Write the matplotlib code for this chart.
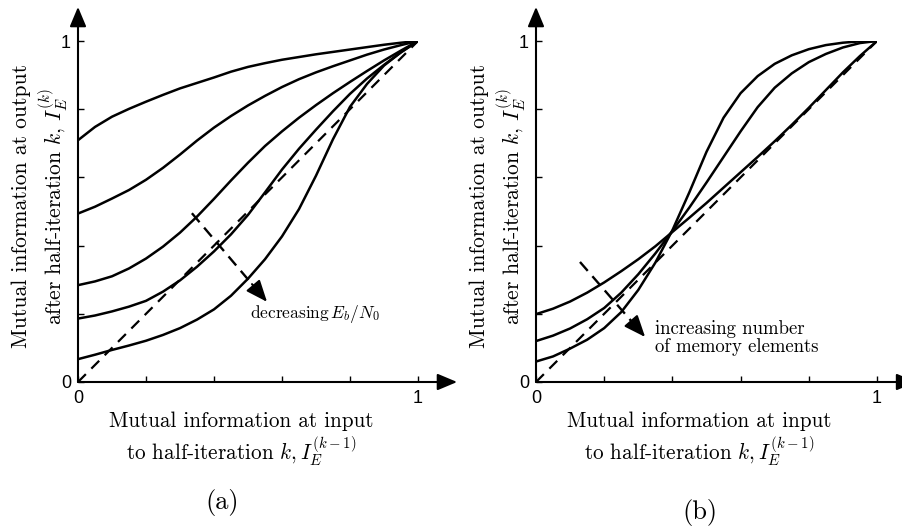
import matplotlib
matplotlib.use("Agg")
import matplotlib.pyplot as plt

plt.rcParams['mathtext.fontset'] = 'cm'
plt.rcParams['font.family'] = ['cmr10', 'DejaVu Serif']
plt.rcParams['axes.unicode_minus'] = False

# EXIT charts: transfer curves I_E(k) vs I_E(k-1)
x_grid = [0.0, 0.05, 0.1, 0.15, 0.2, 0.25, 0.3, 0.35, 0.4, 0.45, 0.5,
          0.55, 0.6, 0.65, 0.7, 0.75, 0.8, 0.85, 0.9, 0.95, 1.0]

# (a) one curve per Eb/N0, highest first
curve_a1 = [0.709, 0.748, 0.778, 0.801, 0.822, 0.842, 0.861, 0.877, 0.893, 0.910, 0.924,
            0.935, 0.945, 0.953, 0.961, 0.968, 0.975, 0.982, 0.989, 0.995, 1.0]
curve_a2 = [0.494, 0.514, 0.538, 0.563, 0.593, 0.628, 0.667, 0.708, 0.746, 0.780, 0.811,
            0.839, 0.865, 0.888, 0.908, 0.926, 0.943, 0.960, 0.975, 0.988, 1.0]
curve_a3 = [0.284, 0.295, 0.310, 0.333, 0.362, 0.397, 0.438, 0.485, 0.537, 0.591, 0.643,
            0.692, 0.735, 0.775, 0.812, 0.847, 0.880, 0.912, 0.943, 0.972, 1.0]
curve_a4 = [0.186, 0.195, 0.207, 0.221, 0.238, 0.265, 0.298, 0.338, 0.383, 0.433, 0.490,
            0.556, 0.623, 0.684, 0.740, 0.794, 0.845, 0.890, 0.930, 0.967, 1.0]
curve_a5 = [0.067, 0.080, 0.094, 0.107, 0.121, 0.138, 0.158, 0.183, 0.213, 0.253, 0.303,
            0.360, 0.427, 0.507, 0.605, 0.712, 0.807, 0.874, 0.928, 0.967, 1.0]

# (b) one curve per code memory, fewest elements first
curve_b1 = [0.199, 0.215, 0.236, 0.262, 0.292, 0.325, 0.360, 0.398, 0.440, 0.482, 0.525,
            0.570, 0.615, 0.660, 0.706, 0.754, 0.804, 0.856, 0.908, 0.956, 1.0]
curve_b2 = [0.120, 0.136, 0.157, 0.184, 0.217, 0.262, 0.316, 0.377, 0.443, 0.512, 0.585,
            0.660, 0.735, 0.806, 0.863, 0.905, 0.938, 0.962, 0.981, 0.994, 1.0]
curve_b3 = [0.060, 0.075, 0.098, 0.124, 0.158, 0.205, 0.270, 0.350, 0.445, 0.557, 0.675,
            0.775, 0.847, 0.897, 0.933, 0.958, 0.976, 0.988, 0.995, 0.999, 1.0]

curves_a = [curve_a1, curve_a2, curve_a3, curve_a4, curve_a5]
curves_b = [curve_b1, curve_b2, curve_b3]

W, H = 902, 529
fig = plt.figure(figsize=(W / 100, H / 100), dpi=100)

def px_axes(x0, x1, y0, y1):
    # axes from pixel positions of data 0 and 1
    return fig.add_axes([x0 / W, (H - y0) / H, (x1 - x0) / W, (y0 - y1) / H])

ax_a = px_axes(78, 418, 382, 41)
ax_b = px_axes(536, 877, 382, 41)

tick_font = dict(family='Liberation Sans', size=13)
ylabel = "Mutual information at output\nafter half-iteration $k$, $I_E^{(k)}$"
xlabel = "Mutual information at input\nto half-iteration $k, I_E^{(k-1)}$"

for ax in (ax_a, ax_b):
    ax.set_xlim(0, 1)
    ax.set_ylim(0, 1)
    for s in ax.spines.values():
        s.set_visible(False)
    ax.set_xticks([0, 0.2, 0.4, 0.6, 0.8, 1.0])
    ax.set_yticks([0, 0.2, 0.4, 0.6, 0.8, 1.0])
    ax.set_xticklabels(['0', '', '', '', '', '1'], fontdict=tick_font)
    ax.set_yticklabels(['0', '', '', '', '', '1'], fontdict=tick_font)
    ax.tick_params(axis='x', direction='in', length=4, width=1, pad=6)
    ax.tick_params(axis='y', direction='in', length=4, width=1, pad=5)
    # axes drawn as arrows
    for tip in [(1.115, 0), (0, 1.1)]:
        ax.annotate('', xy=tip, xytext=(0, 0), annotation_clip=False,
                    arrowprops=dict(arrowstyle='-|>,head_length=1.0,head_width=0.42',
                                    mutation_scale=12, lw=1.5, color='black',
                                    shrinkA=0, shrinkB=0))
    ax.plot([0, 1], [0, 1], color='black', lw=1.6, dashes=(5, 3.5))
    ax.text(-0.11, 0.515, ylabel, transform=ax.transAxes, rotation=90,
            ha='center', va='center', fontsize=15.5, linespacing=1.2)
    ax.text(0.48, -0.085, xlabel, transform=ax.transAxes,
            ha='center', va='top', fontsize=15.3, linespacing=1.15)

for ys in curves_a:
    ax_a.plot(x_grid, ys, color='black', lw=1.8, solid_joinstyle='round')
for ys in curves_b:
    ax_b.plot(x_grid, ys, color='black', lw=1.8, solid_joinstyle='round')

def dashed_arrow(ax, start, tip):
    # dashed shaft with a solid filled head
    dx, dy = tip[0] - start[0], tip[1] - start[1]
    ax.plot([start[0], tip[0] - 0.08 * dx], [start[1], tip[1] - 0.08 * dy],
            color='black', lw=1.7, dashes=(5, 3))
    ax.annotate('', xy=tip, xytext=(tip[0] - 0.2 * dx, tip[1] - 0.2 * dy),
                arrowprops=dict(arrowstyle='-|>,head_length=1.1,head_width=0.45',
                                mutation_scale=12, lw=1.5, color='black',
                                shrinkA=0, shrinkB=0))

dashed_arrow(ax_a, (0.335, 0.495), (0.556, 0.235))
ax_a.text(0.506, 0.20, "decreasing$\\,E_b/N_0$", ha='left', va='center', fontsize=12.5)

dashed_arrow(ax_b, (0.129, 0.352), (0.32, 0.132))
ax_b.text(0.349, 0.13, "increasing number\nof memory elements", ha='left', va='center',
          fontsize=13.5, linespacing=1.0)

fig.text(222 / W, 1 - 503 / H, "(a)", ha='center', va='center', fontsize=19)
fig.text(700 / W, 1 - 512 / H, "(b)", ha='center', va='center', fontsize=19)

fig.savefig("out.png", dpi=100)
